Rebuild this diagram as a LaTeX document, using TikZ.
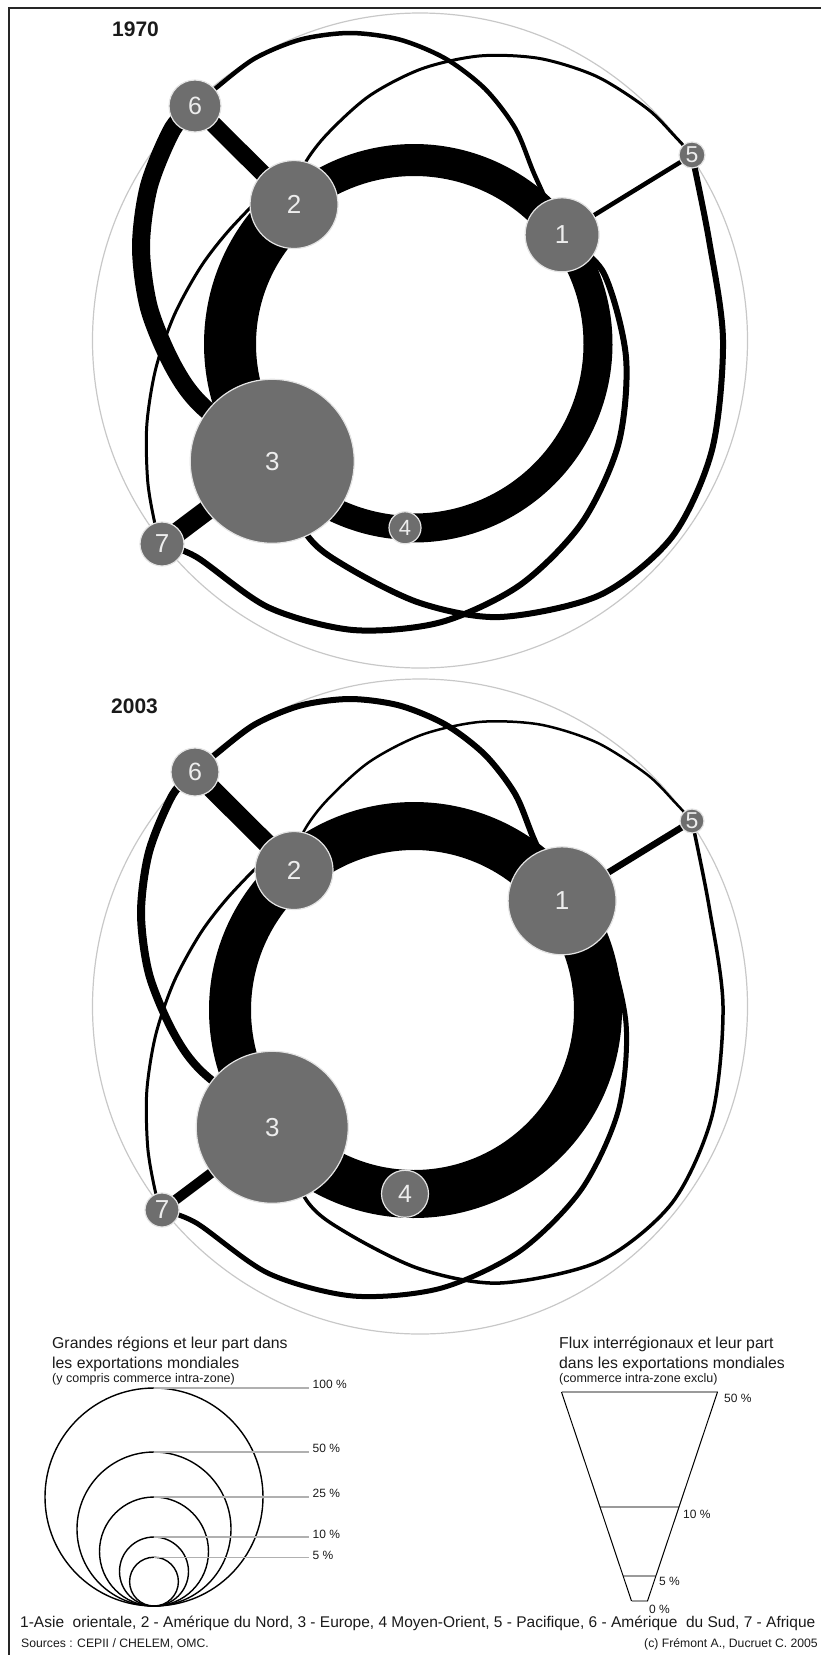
\documentclass[tikz,border=0pt]{standalone}
\usepackage{fontspec}
\setmainfont{Liberation Sans}
\usetikzlibrary{calc}
\pgfdeclarelayer{halolayer}
\pgfdeclarelayer{flowlayer}
\pgfsetlayers{halolayer,flowlayer,main}
\definecolor{nodegray}{HTML}{6E6E6E}
\definecolor{nodeedge}{HTML}{E4E4E4}
\definecolor{halogray}{HTML}{C8C8C8}
\definecolor{leadergray}{HTML}{B0B0B0}
\definecolor{cutgray}{HTML}{9A9A9A}
\definecolor{textdark}{HTML}{1A1A1A}
\definecolor{labelwhite}{HTML}{EDEDED}
\newcommand\fsz[1]{\fontsize{#1pt}{#1pt}\selectfont}

\tikzset{
  region/.style={circle, fill=nodegray, draw=nodeedge, line width=1.2pt, inner sep=0pt,
    text=labelwhite, font=\fsz{26}},
  flow/.style={draw=black, line cap=butt},
  halo/.style={draw=halogray, line width=1.2pt},
  yearlabel/.style={anchor=base west, inner sep=0pt, font=\bfseries\fsz{21}, text=textdark},
  legtitle/.style={anchor=base west, inner sep=0pt, font=\fsz{15.8}, text=textdark},
  legsub/.style={anchor=base west, inner sep=0pt, font=\fsz{12.5}, text=textdark},
  pct/.style={anchor=base west, inner sep=0pt, font=\fsz{12}, text=textdark},
  legcircle/.style={draw=black, line width=1.4pt},
  leader/.style={draw=leadergray, line width=1.2pt},
  funnelside/.style={draw=black, line width=1pt},
  funnelcut/.style={draw=cutgray, line width=1.8pt},
  borderline/.style={draw=black!85, line width=2pt},
  caption/.style={anchor=base west, inner sep=0pt, font=\fsz{15.5}, text=textdark},
  smallcaption/.style={anchor=base west, inner sep=0pt, font=\fsz{12.2}, text=textdark},
}

\newcommand\yeardiagram[1]{%
  \coordinate (#1C) at (414,-344);
  \coordinate (#1H) at (420,-340.5);
  \node[region,n1] (#1n1) at ($(#1C)+(36.4:184)$) {1};
  \node[region,n2] (#1n2) at ($(#1C)+(130.7:184)$) {2};
  \node[region,n3] (#1n3) at ($(#1C)+(219.6:184)$) {3};
  \node[region,n4] (#1n4) at ($(#1C)+(267.2:184)$) {4};
  \node[region,n5] (#1n5) at (692,-155) {5};
  \node[region,n6] (#1n6) at (195,-106) {6};
  \node[region,n7] (#1n7) at (162,-544) {7};
  \begin{pgfonlayer}{halolayer}
    \draw[halo] (#1H) circle[radius=327.5];
  \end{pgfonlayer}
  \begin{pgfonlayer}{flowlayer}
    % ring
    \draw[f21] (#1n2.center) arc[start angle=130.7, end angle=36.4, radius=184];
    \draw[f14] (#1n1.center) arc[start angle=36.4, end angle=-92.8, radius=184];
    \draw[f43] (#1n4.center) arc[start angle=267.2, end angle=219.6, radius=184];
    \draw[f32] (#1n3.center) arc[start angle=219.6, end angle=130.7, radius=184];
    % radial links
    \draw[f62] (#1n6.center) -- (#1n2.center);
    \draw[f51] (#1n5.center) -- (#1n1.center);
    \draw[f73] (#1n7.center) -- (#1n3.center);
    % long arcs
    \draw[f63] plot[smooth] coordinates {(#1n6.center) (172.8,-128.5) (149.1,-185.7) (141,-247) (149.1,-308.3) (172.8,-365.5) (201.9,-405.6) (#1n3.center)};
    \draw[f61] plot[smooth] coordinates {(#1n6.center) (214.9,-88.9) (254.5,-58.6) (300.6,-39.5) (350,-33) (399.4,-39.5) (445.5,-58.6) (485.1,-88.9) (515.4,-128.5) (534.5,-174.6) (#1n1.center)};
    \draw[f25] plot[smooth] coordinates {(#1n2.center) (301.7,-169.5) (324.6,-136.8) (368.6,-96.4) (421.7,-68.8) (480,-55.9) (539.8,-58.5) (596.8,-76.5) (647.2,-108.6) (675.4,-136.8) (#1n5.center)};
    \draw[f53] plot[smooth] coordinates {(#1n5.center) (709,-240) (723,-340) (712,-450) (672,-537) (600,-595) (500,-617) (420,-603) (347,-567) (307,-535) (#1n3.center)};
    \draw[f71] plot[smooth] coordinates {(#1n7.center) (196.8,-557.2) (268.5,-607.4) (353,-630) (440.2,-622.4) (519.5,-585.4) (581.4,-523.5) (618.4,-444.2) (626,-357) (603.4,-272.5) (#1n1.center)};
    \draw[f27] plot[smooth] coordinates {(#1n2.center) (271.7,-190.3) (233.8,-225) (201.9,-265.1) (174.3,-315) (155.7,-368.9) (146.8,-425.2) (147.8,-482.2) (155.7,-527.1) (#1n7.center)};
  \end{pgfonlayer}
}

\begin{document}
\begin{tikzpicture}[x=1pt,y=1pt]
\useasboundingbox (0,0) rectangle (821,-1655);
\clip (0,0) rectangle (821,-1655);
\draw[borderline] (9,-1700) -- (9,-8.3) -- (900,-8.3);

% ---------- 1970 ----------
\node[yearlabel] (y1970) at (112,-36.7) {1970};
\begin{scope}[
  n1/.style={minimum size=74pt}, n2/.style={minimum size=88pt},
  n3/.style={minimum size=164pt}, n4/.style={minimum size=32pt, font=\fsz{22}},
  n5/.style={minimum size=26pt, font=\fsz{23}}, n6/.style={minimum size=52pt, font=\fsz{25}},
  n7/.style={minimum size=44pt},
  f21/.style={flow, line width=32pt}, f14/.style={flow, line width=29pt},
  f43/.style={flow, line width=24pt}, f32/.style={flow, line width=52pt},
  f62/.style={flow, line width=17pt}, f51/.style={flow, line width=4.5pt},
  f73/.style={flow, line width=20pt}, f63/.style={flow, line width=18pt},
  f61/.style={flow, line width=4.5pt}, f25/.style={flow, line width=3pt},
  f53/.style={flow, line width=6pt}, f71/.style={flow, line width=6pt},
  f27/.style={flow, line width=3pt}]
  \yeardiagram{a}
\end{scope}

% ---------- 2003 ----------
\node[yearlabel] (y2003) at (111,-713) {2003};
\begin{scope}[shift={(0,-666)},
  n1/.style={minimum size=108pt}, n2/.style={minimum size=78pt},
  n3/.style={minimum size=152pt}, n4/.style={minimum size=47pt, font=\fsz{25}},
  n5/.style={minimum size=24pt, font=\fsz{23}}, n6/.style={minimum size=48pt, font=\fsz{25}},
  n7/.style={minimum size=34pt},
  f21/.style={flow, line width=48pt}, f14/.style={flow, line width=48pt},
  f43/.style={flow, line width=48pt}, f32/.style={flow, line width=42pt},
  f62/.style={flow, line width=19pt}, f51/.style={flow, line width=6.5pt},
  f73/.style={flow, line width=10pt}, f63/.style={flow, line width=8pt},
  f61/.style={flow, line width=6pt}, f25/.style={flow, line width=2.5pt},
  f53/.style={flow, line width=3.5pt}, f71/.style={flow, line width=5pt},
  f27/.style={flow, line width=3pt}]
  \yeardiagram{b}
\end{scope}

% ---------- legend: regions ----------
\node[legtitle] (lt1) at (52,-1348) {Grandes régions et leur part dans};
\node[legtitle] (lt2) at (52,-1368) {les exportations mondiales};
\node[legsub] (lt3) at (52,-1382.5) {(y compris commerce intra-zone)};
\draw[legcircle] (154,-1497) circle[radius=109];
\draw[legcircle] (154,-1529) circle[radius=77];
\draw[legcircle] (154,-1551.5) circle[radius=54.5];
\draw[legcircle] (154,-1571.5) circle[radius=34.5];
\draw[legcircle] (154,-1581.6) circle[radius=24.4];
\coordinate (c100) at (154,-1388);   \coordinate (e100) at (309,-1388);
\coordinate (c50) at (154,-1452);    \coordinate (e50) at (309,-1452);
\coordinate (c25) at (154,-1497);    \coordinate (e25) at (309,-1497);
\coordinate (c10) at (154,-1537);    \coordinate (e10) at (309,-1537);
\coordinate (c5) at (154,-1557.2);   \coordinate (e5) at (309,-1557.2);
\draw[leader] (c100) -- (e100);
\draw[leader] (c50) -- (e50);
\draw[leader] (c25) -- (e25);
\draw[leader] (c10) -- (e10);
\draw[leader] (c5) -- (e5);
\node[pct] (p100) at (312.5,-1388) {100 \%};
\node[pct] (p50) at (312.5,-1452) {50 \%};
\node[pct] (p25) at (312.5,-1497) {25 \%};
\node[pct] (p10) at (312.5,-1538) {10 \%};
\node[pct] (p5) at (312.5,-1559) {5 \%};

% ---------- legend: flows ----------
\node[legtitle] (rt1) at (559,-1348) {Flux interrégionaux et leur part};
\node[legtitle] (rt2) at (559,-1368) {dans les exportations mondiales};
\node[legsub] (rt3) at (559,-1382.5) {(commerce intra-zone exclu)};
\coordinate (f50l) at (561.5,-1392); \coordinate (f50r) at (717.5,-1392);
\coordinate (f10l) at (600,-1507);   \coordinate (f10r) at (679,-1507);
\coordinate (f5l) at (623,-1576);    \coordinate (f5r) at (656,-1576);
\coordinate (f0l) at (631.5,-1601);  \coordinate (f0r) at (647.5,-1601);
\draw[funnelcut] (f50l) -- (f50r);
\draw[funnelcut] (f10l) -- (f10r);
\draw[funnelcut] (f5l) -- (f5r);
\draw[funnelcut] (f0l) -- (f0r);
\draw[funnelside] (f50l) -- (f0l);
\draw[funnelside] (f50r) -- (f0r);
\node[pct] (q50) at (724,-1402) {50 \%};
\node[pct] (q10) at (683,-1518) {10 \%};
\node[pct] (q5) at (659,-1585) {5 \%};
\node[pct] (q0) at (649,-1613) {0 \%};

% ---------- captions ----------
\node[caption] (cap) at (20,-1627) {1-Asie\ \ orientale, 2 - Amérique du Nord, 3 - Europe, 4 Moyen-Orient, 5 - Pacifique, 6 - Amérique\ \ du Sud, 7 - Afrique};
\node[smallcaption] (src) at (21,-1647) {Sources : CEPII / CHELEM, OMC.};
\node[smallcaption] (copy) at (644,-1647) {(c) Frémont A., Ducruet C. 2005};
\end{tikzpicture}
\end{document}
